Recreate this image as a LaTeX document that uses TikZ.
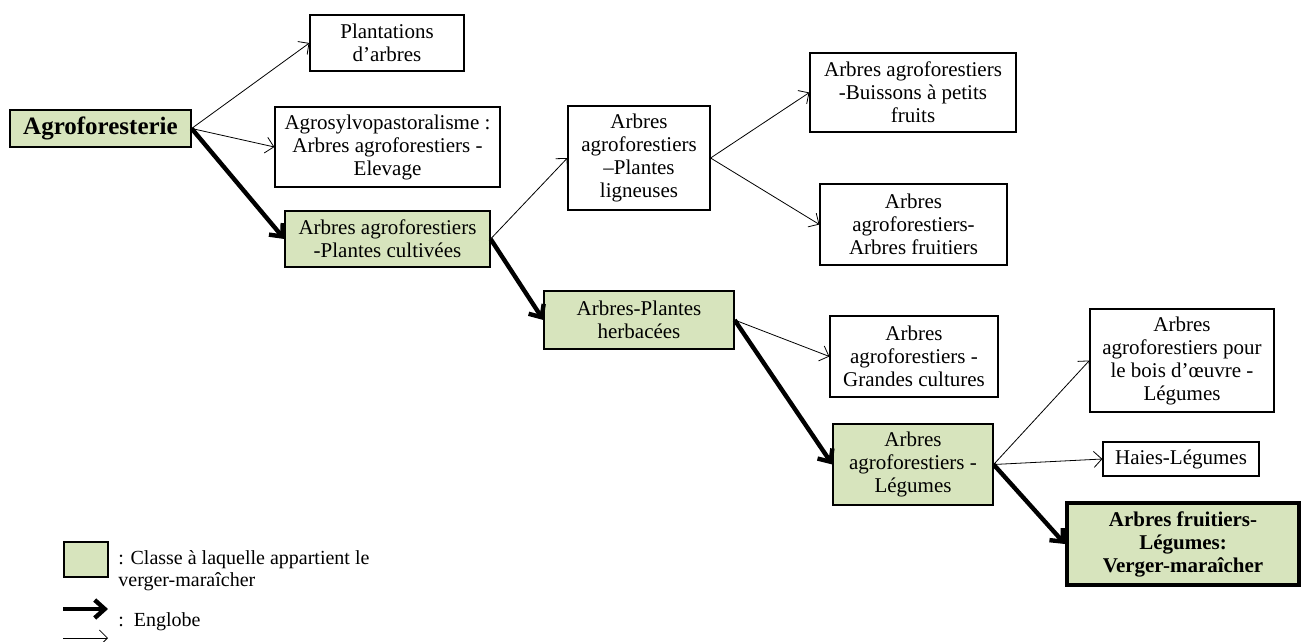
\documentclass[tikz,border=0pt]{standalone}
\usepackage{fontspec}
\setmainfont{Liberation Serif}
\usepackage{xcolor}
\definecolor{vertclair}{RGB}{215, 228, 189}
\usepackage{tikz}
\usetikzlibrary{
    arrows.meta,
    positioning
}
\tikzstyle{boite} = [
    draw,
    align=center,
    inner sep=1pt,
    line width=0.6pt,
    font=\fontsize{10.5}{11.5}\selectfont
]
\tikzstyle{classe} = [
    boite,
    fill=vertclair
]
\tikzstyle{lien} = [
    line width=0.4pt,
    -{Straight Barb[length=4pt,width=8pt]}
]
\tikzstyle{englobe} = [
    line width=2.2pt,
    -{Straight Barb[length=5pt,width=9pt]}
]

\begin{document}
\begin{tikzpicture}[x=0.5pt, y=-0.5pt]

\useasboundingbox (0,0) rectangle (1306,642);

% Racine
\node[classe, minimum width=90.5pt, minimum height=18.5pt, font=\fontsize{12.5}{14}\selectfont\bfseries]
    (agro) at (100.5,128.5) {Agroforesterie};

% Premier niveau
\node[boite, minimum width=77pt, minimum height=28pt] (plant) at (387,43) {Plantations\\d'arbres};
\node[boite, minimum width=112.5pt, minimum height=40pt] (sylvo) at (387.5,147)
    {Agrosylvopastoralisme :\\Arbres agroforestiers -\\Elevage};
\node[classe, minimum width=102.5pt, minimum height=28pt] (cult) at (387.5,239)
    {Arbres agroforestiers\\-Plantes cultivées};

% Deuxieme niveau
\node[boite, minimum width=71pt, minimum height=52pt] (lign) at (639,158)
    {Arbres\\agroforestiers\\--Plantes\\ligneuses};
\node[classe, minimum width=95pt, minimum height=29pt] (herb) at (639,320)
    {Arbres-Plantes\\herbacées};

% Plantes ligneuses
\node[boite, minimum width=103pt, minimum height=39.5pt] (buis) at (913,92.5)
    {Arbres agroforestiers\\-Buissons à petits\\fruits};
\node[boite, minimum width=93.5pt, minimum height=40.5pt] (fruit) at (913.5,224.5)
    {Arbres\\agroforestiers-\\Arbres fruitiers};

% Plantes herbacees
\node[boite, minimum width=84pt, minimum height=40.5pt] (grand) at (914,356.5)
    {Arbres\\agroforestiers -\\Grandes cultures};
\node[classe, minimum width=80pt, minimum height=40.5pt] (legum) at (913,464.5)
    {Arbres\\agroforestiers -\\Légumes};

% Legumes
\node[boite, minimum width=92pt, minimum height=51.5pt] (bois) at (1182,360.5)
    {Arbres\\agroforestiers pour\\le bois d'\oe uvre -\\Légumes};
\node[boite, minimum width=78pt, minimum height=17pt] (haies) at (1181,459) {Haies-Légumes};
\node[classe, line width=2pt, minimum width=116pt, minimum height=41pt, font=\fontsize{10.5}{11.5}\selectfont\bfseries]
    (verger) at (1183,544) {Arbres fruitiers-\\Légumes:\\Verger-maraîcher};

% Fleches
\draw[lien] (agro.east) -- (plant.west);
\draw[lien] (agro.east) -- (sylvo.west);
\draw[englobe] (agro.east) -- (cult.west);
\draw[lien] (cult.east) -- (lign.west);
\draw[englobe] (cult.east) -- (herb.west);
\draw[lien] (lign.east) -- (buis.west);
\draw[lien] (lign.east) -- (fruit.west);
\draw[lien] (herb.east) -- (grand.west);
\draw[englobe] (herb.east) -- (legum.west);
\draw[lien] (legum.east) -- (bois.west);
\draw[lien] (legum.east) -- (haies.west);
\draw[englobe] (legum.east) -- (verger.west);

% Legende
\node[classe, minimum width=22pt, minimum height=17.5pt] (carre) at (86,559.5) {};
\node[align=left, anchor=west, inner sep=0pt, font=\fontsize{10}{11}\selectfont]
    (txtclasse) at (118,571) {: Classe à laquelle appartient le\\verger-maraîcher};
\coordinate (g1) at (63,609);
\coordinate (g2) at (108,609);
\draw[englobe] (g1) -- (g2);
\node[anchor=west, inner sep=0pt, font=\fontsize{10}{11}\selectfont] (txtenglobe) at (118,622) {:~~Englobe};
\coordinate (l1) at (63,638);
\coordinate (l2) at (108,638);
\draw[lien] (l1) -- (l2);

\end{tikzpicture}
\end{document}
